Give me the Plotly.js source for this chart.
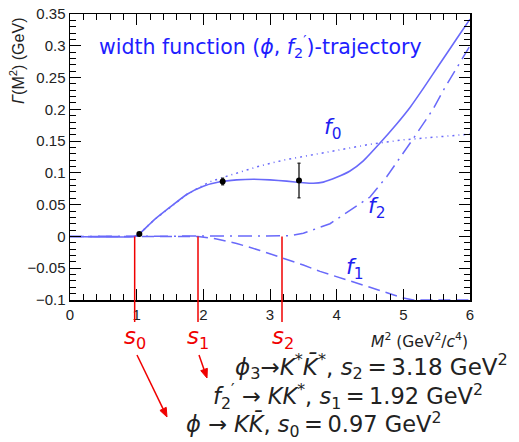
<!DOCTYPE html>
<html>
<head>
<meta charset="utf-8">
<script src="https://cdn.plot.ly/plotly-3.0.1.min.js"></script>
<style>html,body{margin:0;padding:0;background:#fff;}#chart{width:519px;height:442px;}</style>
</head>
<body>
<div id="chart"></div>
<script>
// ---- data ----
var totalX = [0, 0.97, 1.04, 1.25, 1.5, 1.75, 2.0, 2.25, 2.5, 2.75, 3.0, 3.25, 3.5, 3.65, 3.8, 4.0, 4.2, 4.4, 4.65, 4.9, 5.1, 5.3, 5.55, 5.8, 6.0];
var totalY = [0, 0, 0.004, 0.025, 0.046, 0.066, 0.079, 0.086, 0.089, 0.090, 0.089, 0.087, 0.0845, 0.0837, 0.0855, 0.093, 0.103, 0.119, 0.147, 0.177, 0.203, 0.233, 0.272, 0.311, 0.342];

var f0X = [0.97, 1.04, 1.25, 1.5, 1.75, 1.92, 2.1, 2.3, 2.6, 2.85, 3.2, 3.5, 4.0, 4.5, 5.0, 5.5, 6.0];
var f0Y = [0, 0.004, 0.025, 0.046, 0.066, 0.076, 0.086, 0.093, 0.103, 0.111, 0.120, 0.126, 0.136, 0.145, 0.152, 0.157, 0.161];

var f1X = [0, 1.92, 2.2, 2.5, 2.85, 3.2, 3.5, 3.75, 4.0, 4.5, 5.0, 5.15, 5.5, 6.0];
var f1Y = [0, 0, -0.004, -0.011, -0.022, -0.034, -0.045, -0.055, -0.063, -0.080, -0.097, -0.100, -0.100, -0.100];

var f2X = [0, 3.18, 3.3, 3.5, 3.7, 3.9, 4.2, 4.5, 4.75, 5.0, 5.15, 5.45, 5.6, 5.8, 6.0];
var f2Y = [0, 0, 0.001, 0.005, 0.012, 0.020, 0.041, 0.062, 0.094, 0.131, 0.154, 0.201, 0.230, 0.265, 0.300];

var pointsX = [1.04, 2.29, 3.435];
var pointsY = [0.004, 0.0865, 0.088];
var pointsErr = [0.0, 0.005, 0.027];

var thresholds = [0.97, 1.92, 3.18];
var thresholdLabels = ['<i>s</i><sub>0</sub>', '<i>s</i><sub>1</sub>', '<i>s</i><sub>2</sub>'];

var xTicks = [0, 1, 2, 3, 4, 5, 6];
var xRange = [0, 6];
var yRange = [-0.1, 0.35];

// ---- layout helpers (pixel -> paper) ----
var W = 519, H = 442, ML = 70, MR = 49, MT = 14, MB = 142;
var PW = W - ML - MR, PH = H - MT - MB;
function px(x) { return (x - ML) / PW; }
function py(y) { return (H - MB - y) / PH; }
function yDataToPaper(v) { return (v - yRange[0]) / (yRange[1] - yRange[0]); }

var lineCol = 'rgb(105,105,250)';
var traces = [
  {x: f0X, y: f0Y, mode: 'lines', line: {color: lineCol, width: 1.5, dash: '2px,4px,1px,4px'}, hoverinfo: 'skip'},
  {x: f1X, y: f1Y, mode: 'lines', line: {color: lineCol, width: 1.5, dash: '12px,6px'}, hoverinfo: 'skip'},
  {x: f2X, y: f2Y, mode: 'lines', line: {color: lineCol, width: 1.5, dash: '14px,6px,2px,6px'}, hoverinfo: 'skip'},
  {x: totalX, y: totalY, mode: 'lines', line: {color: lineCol, width: 1.6, shape: 'spline', smoothing: 0.5}, hoverinfo: 'skip'},
  {x: pointsX, y: pointsY, mode: 'markers', marker: {color: 'black', size: 6},
   error_y: {type: 'data', array: pointsErr, visible: true, color: '#333', thickness: 1.5, width: 1.5}, hoverinfo: 'skip'}
];

var red = 'rgb(240,0,0)';
var shapes = thresholds.map(function (s) {
  return {type: 'line', xref: 'x', yref: 'paper', x0: s, x1: s, y0: yDataToPaper(0), y1: py(322),
          line: {color: red, width: 1.5}, layer: 'above'};
});

// arrows drawn as line + filled head (pixel geometry converted to paper)
function arrow(x0, y0, x1, y1) {
  var dx = x1 - x0, dy = y1 - y0, L = Math.sqrt(dx * dx + dy * dy);
  var ux = dx / L, uy = dy / L, hl = 9, hw = 3.5;
  var bx = x1 - ux * hl, by = y1 - uy * hl;
  shapes.push({type: 'line', xref: 'paper', yref: 'paper', x0: px(x0), y0: py(y0), x1: px(bx), y1: py(by),
               line: {color: red, width: 1.5}});
  var p = 'M' + px(x1) + ',' + py(y1) +
          ' L' + px(bx - uy * hw) + ',' + py(by + ux * hw) +
          ' L' + px(bx + uy * hw) + ',' + py(by - ux * hw) + ' Z';
  shapes.push({type: 'path', xref: 'paper', yref: 'paper', path: p, fillcolor: red, line: {color: red, width: 1}});
}
arrow(137, 355, 167, 417);
arrow(199, 355, 207, 378);

var font = 'Liberation Sans, Arial, sans-serif';
var wfont = 'DejaVu Sans, sans-serif';
var ann = [];
function addText(text, x, y, size, color, xa, fam, extra) {
  var a = {text: text, xref: 'paper', yref: 'paper', x: px(x), y: py(y), showarrow: false,
           xanchor: xa || 'center', yanchor: 'middle', font: {family: fam || font, size: size, color: color}};
  if (extra) for (var k in extra) a[k] = extra[k];
  ann.push(a);
}
var T = '\u2009';
addText('width function (<i>ϕ</i>, <i>f</i><sub>2</sub><sup>′</sup>)-trajectory', 97, 46, 20.5, 'rgb(30,30,255)', 'left', wfont);
addText('<i>Γ</i>(M<sup>2</sup>) (GeV)', 17, 61, 16, '#222', 'center', font, {textangle: -90});
addText('<i>f</i><sub>0</sub>', 333, 128, 22, 'rgb(30,30,240)', 'center', wfont);
addText('<i>f</i><sub>2</sub>', 377, 207, 22, 'rgb(30,30,240)', 'center', wfont);
addText('<i>f</i><sub>1</sub>', 355, 268, 22, 'rgb(30,30,240)', 'center', wfont);
addText('<i>M</i><sup>2</sup> (GeV<sup>2</sup>/<i>c</i><sup>4</sup>)', 470, 340, 15.5, '#222', 'right', wfont);
var sPix = [135, 198, 283];
for (var i = 0; i < thresholdLabels.length; i++) addText(thresholdLabels[i], sPix[i], 338, 23, red, 'center', wfont);
addText('<i>ϕ</i><sub>3</sub>→<i>K</i><sup>*</sup><i>K̄</i><sup>*</sup>, <i>s</i><sub>2</sub>' + T + '=' + T + '3.18 GeV<sup>2</sup>', 510, 367, 23, '#222', 'right', wfont);
addText('<i>f</i><sub>2</sub><sup>′</sup> → <i>KK</i><sup>*</sup>, <i>s</i><sub>1</sub>' + T + '=' + T + '1.92 GeV<sup>2</sup>', 485, 396, 22.5, '#222', 'right', wfont);
addText('<i>ϕ</i> → <i>KK̄</i>, <i>s</i><sub>0</sub>' + T + '=' + T + '0.97 GeV<sup>2</sup>', 443, 424, 22.5, '#222', 'right', wfont);

var axisCommon = {
  ticks: 'inside', ticklen: 11, tickwidth: 1, tickcolor: 'black',
  showline: true, linecolor: 'black', linewidth: 1.5, mirror: 'allticks',
  showgrid: false, zeroline: false,
  tickfont: {family: font, size: 15, color: '#222'}
};
var layout = {
  width: W, height: H,
  margin: {l: ML, r: MR, t: MT, b: MB, pad: 0},
  paper_bgcolor: 'white', plot_bgcolor: 'white',
  showlegend: false,
  xaxis: Object.assign({}, axisCommon, {range: xRange, tickvals: xTicks, ticktext: xTicks.map(String),
    minor: {dtick: 0.2, tick0: 0, ticks: 'inside', ticklen: 6, tickcolor: 'black', tickwidth: 1}}),
  yaxis: Object.assign({}, axisCommon, {range: yRange, dtick: 0.05, tick0: 0,
    minor: {dtick: 0.01, tick0: 0, ticks: 'inside', ticklen: 6, tickcolor: 'black', tickwidth: 1}}),
  shapes: shapes,
  annotations: ann
};
Plotly.newPlot('chart', traces, layout, {displayModeBar: false, staticPlot: true});
</script>
</body>
</html>
